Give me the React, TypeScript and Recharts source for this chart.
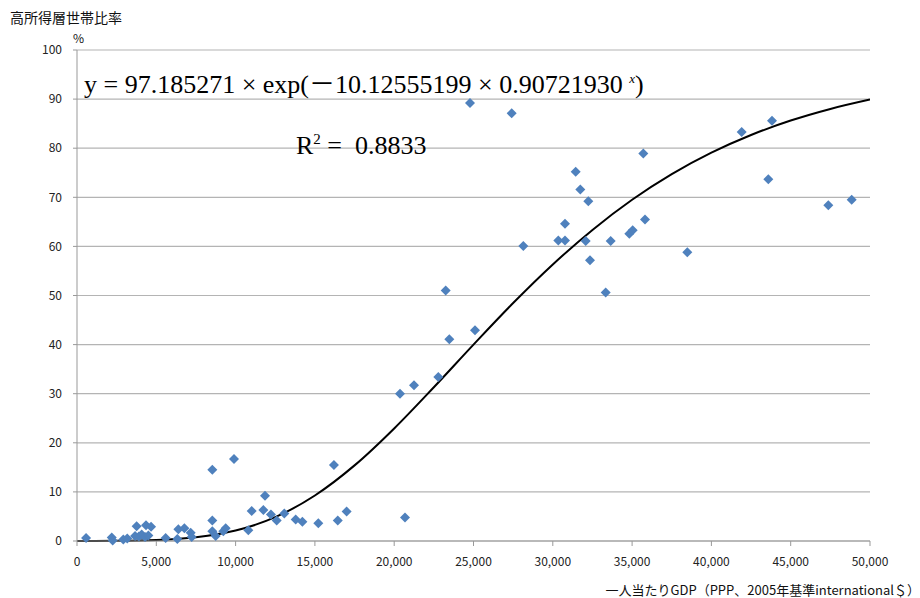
import React from "react";
import { ComposedChart, Scatter, Line, XAxis, YAxis, CartesianGrid } from "recharts";

const gdpValues = [
  570, 2190, 2250, 2920, 3170, 3660, 3760, 3900, 4080, 4290, 4350, 4500, 4670,
  5590, 6325, 6390, 6770, 7170, 7230,
  8530, 8530, 8530, 8745, 9225, 9375, 9900, 10800, 11015, 11854, 11750, 12230,
  12590, 13070, 13790, 14210, 15215, 16200, 16440, 17000,
  20366, 20681, 21249, 22781, 23247, 23474, 24779, 25095, 27408, 28140,
  30347, 30769, 30769, 31444, 31734, 32074, 32238, 32345, 33335, 33651,
  34823, 35038, 35706, 35813, 38480, 41910, 43590, 43820, 47370, 48845,
];
const ratioValues = [
  0.6, 0.7, 0.1, 0.3, 0.5, 1.0, 3.0, 0.9, 1.3, 0.8, 3.2, 1.1, 2.9,
  0.6, 0.4, 2.4, 2.6, 1.7, 0.8,
  4.2, 14.5, 2.0, 1.0, 2.0, 2.6, 16.7, 2.2, 6.1, 9.2, 6.3, 5.4,
  4.2, 5.6, 4.4, 3.9, 3.6, 15.5, 4.2, 6.0,
  30.0, 4.8, 31.7, 33.4, 51.0, 41.1, 89.2, 42.9, 87.1, 60.1,
  61.2, 61.2, 64.6, 75.2, 71.6, 61.1, 69.2, 57.2, 50.6, 61.1,
  62.6, 63.3, 78.9, 65.5, 58.8, 83.3, 73.7, 85.6, 68.4, 69.5,
];

const curveX = [
  0, 2500, 5000, 7500, 10000, 12500, 15000, 17500, 20000, 22500, 25000,
  27500, 30000, 32500, 35000, 37500, 40000, 42500, 45000, 47500, 50000,
];
const curveY = [
  0.0, 0.03, 0.19, 0.74, 2.12, 4.85, 9.27, 15.4, 22.93, 31.32, 40.0,
  48.46, 56.32, 63.36, 69.5, 74.72, 79.09, 82.69, 85.63, 88.0, 89.91,
];

const xTicks = [0, 5000, 10000, 15000, 20000, 25000, 30000, 35000, 40000, 45000, 50000];
const yTicks = [0, 10, 20, 30, 40, 50, 60, 70, 80, 90, 100];

const scatterData = gdpValues.map((x, i) => ({ x, y: ratioValues[i] }));
const curveData = curveX.map((x, i) => ({ x, c: curveY[i] }));

const font = "'Noto Sans CJK JP', 'Noto Sans', sans-serif";
const serif = "'Liberation Serif', 'DejaVu Serif', 'Noto Sans CJK JP', serif";

const Diamond = (props: any) => {
  const { cx, cy } = props;
  if (cx == null || cy == null) return null;
  const r = 5;
  return (
    <path
      d={`M${cx},${cy - r} L${cx + r},${cy} L${cx},${cy + r} L${cx - r},${cy} Z`}
      fill="#4F81BD"
    />
  );
};

const fmt = (v: number) => v.toLocaleString("en-US");

export default function App() {
  return (
    <div style={{ position: "absolute", left: 0, top: 0, width: 920, height: 598, background: "#fff" }}>
      <ComposedChart
        width={920}
        height={598}
        margin={{ top: 50, right: 50, bottom: 27, left: 17 }}
      >
        <CartesianGrid horizontal={true} vertical={false} stroke="#b4b4b4" strokeWidth={1.2} />
        <XAxis
          type="number"
          dataKey="x"
          domain={[0, 50000]}
          ticks={xTicks}
          tickFormatter={fmt}
          height={30}
          tickSize={5}
          tickMargin={11}
          stroke="#999"
          tick={{ fill: "#222", fontSize: 12, fontFamily: font }}
          allowDataOverflow
        />
        <YAxis
          type="number"
          domain={[0, 100]}
          ticks={yTicks}
          width={60}
          tickSize={4}
          tickMargin={11}
          stroke="#999"
          tick={{ fill: "#222", fontSize: 12, fontFamily: font }}
        />
        <Scatter data={scatterData} dataKey="y" shape={<Diamond />} isAnimationActive={false} />
        <Line
          data={curveData}
          dataKey="c"
          type="monotone"
          stroke="#000"
          strokeWidth={2}
          dot={false}
          activeDot={false}
          isAnimationActive={false}
        />
      </ComposedChart>
      <div style={{ position: "absolute", left: 10, top: 7, fontSize: 14, fontFamily: font, color: "#111" }}>
        高所得層世帯比率
      </div>
      <div style={{ position: "absolute", left: 73, top: 29, fontSize: 12, fontFamily: font, color: "#111" }}>
        %
      </div>
      <div
        style={{
          position: "absolute",
          left: 84,
          top: 64,
          fontSize: 26,
          lineHeight: "30px",
          fontFamily: serif,
          color: "#000",
          whiteSpace: "nowrap",
        }}
      >
        y = 97.185271 × exp(－10.12555199 × 0.90721930 <sup style={{ fontSize: 13, fontStyle: "italic" }}>x</sup>)
      </div>
      <div
        style={{
          position: "absolute",
          left: 296,
          top: 124,
          fontSize: 26,
          lineHeight: "30px",
          fontFamily: serif,
          color: "#000",
          whiteSpace: "nowrap",
        }}
      >
        R<sup style={{ fontSize: 15 }}>2</sup> =&nbsp; 0.8833
      </div>
      <div
        style={{
          position: "absolute",
          right: 0,
          top: 580,
          fontSize: 13,
          fontFamily: font,
          color: "#111",
          whiteSpace: "nowrap",
        }}
      >
        一人当たりGDP（PPP、2005年基準international＄）
      </div>
    </div>
  );
}
